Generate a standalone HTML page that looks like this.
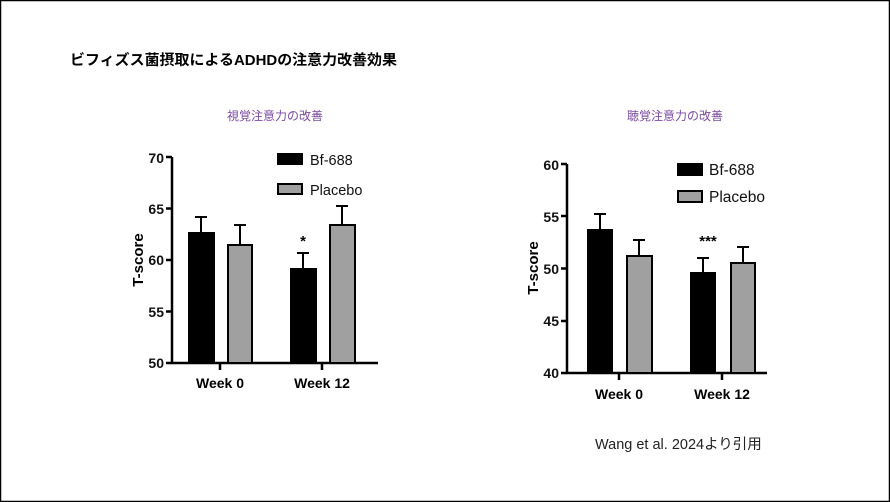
<!DOCTYPE html>
<html><head><meta charset="utf-8"><style>
html,body{margin:0;padding:0;background:#fff}
svg{display:block}
</style></head><body>
<svg width="890" height="502" xmlns="http://www.w3.org/2000/svg" font-family="Liberation Sans, Noto Sans CJK JP, sans-serif">
<rect x="0.5" y="0.5" width="889" height="501" fill="#fff" stroke="#000" stroke-width="1.5"/>
<text x="70" y="65" font-size="14.5" font-weight="bold" textLength="327" lengthAdjust="spacingAndGlyphs">ビフィズス菌摂取によるADHDの注意力改善効果</text>
<text x="275" y="120" font-size="12" fill="#7a4aa0" text-anchor="middle">視覚注意力の改善</text>
<text x="675" y="120" font-size="12" fill="#7a4aa0" text-anchor="middle">聴覚注意力の改善</text>
<text x="595" y="449" font-size="14.5" fill="#222">Wang et al. 2024より引用</text>

<!-- Left chart -->
<g stroke="#000" stroke-width="2.5" fill="none">
<path d="M172,157 V363 H378"/>
<path d="M166,157H172 M166,208.5H172 M166,260H172 M166,311.5H172 M166,363H172"/>
<path d="M220,363V370 M322,363V370"/>
</g>
<g font-size="14" font-weight="bold" text-anchor="end" fill="#111">
<text x="164" y="163">70</text><text x="164" y="214">65</text><text x="164" y="265">60</text><text x="164" y="317">55</text><text x="164" y="368">50</text>
</g>
<text transform="translate(143,260) rotate(-90)" font-size="15" font-weight="bold" text-anchor="middle">T-score</text>
<g font-size="14" font-weight="bold" text-anchor="middle">
<text x="220" y="388">Week 0</text><text x="322" y="388">Week 12</text>
</g>
<g stroke="#000" stroke-width="2">
<path d="M201,233V217M195,217H207 M240,245V225M234,225H246 M303,269V253M297,253H309 M342,225V206M336,206H348"/>
<rect x="189" y="233" width="25" height="130" fill="#000"/>
<rect x="228" y="245" width="24" height="118" fill="#a0a0a0"/>
<rect x="291" y="269" width="25" height="94" fill="#000"/>
<rect x="330" y="225" width="25" height="138" fill="#a0a0a0"/>
<rect x="278" y="154" width="24" height="10" fill="#000"/>
<rect x="278" y="184" width="24" height="10" fill="#a0a0a0"/>
</g>
<text x="303" y="246" font-size="15" font-weight="bold" text-anchor="middle">*</text>
<text x="310" y="165" font-size="14.5" fill="#111">Bf-688</text>
<text x="310" y="195" font-size="14.5" fill="#111">Placebo</text>

<!-- Right chart -->
<g stroke="#000" stroke-width="2.5" fill="none">
<path d="M567,164 V373 H767"/>
<path d="M561,164H567 M561,216H567 M561,268.5H567 M561,321H567 M561,373H567"/>
<path d="M619,373V380 M722,373V380"/>
</g>
<g font-size="14" font-weight="bold" text-anchor="end" fill="#111">
<text x="559" y="170">60</text><text x="559" y="222">55</text><text x="559" y="274">50</text><text x="559" y="326">45</text><text x="559" y="378">40</text>
</g>
<text transform="translate(538,268) rotate(-90)" font-size="15" font-weight="bold" text-anchor="middle">T-score</text>
<g font-size="14" font-weight="bold" text-anchor="middle">
<text x="619" y="399">Week 0</text><text x="722" y="399">Week 12</text>
</g>
<g stroke="#000" stroke-width="2">
<path d="M600,230V214M594,214H606 M639,256V240M633,240H645 M703,273V258M697,258H709 M743,263V247M737,247H749"/>
<rect x="588" y="230" width="24" height="143" fill="#000"/>
<rect x="627" y="256" width="25" height="117" fill="#a0a0a0"/>
<rect x="691" y="273" width="24" height="100" fill="#000"/>
<rect x="731" y="263" width="24" height="110" fill="#a0a0a0"/>
<rect x="678" y="164" width="24" height="11" fill="#000"/>
<rect x="678" y="191" width="24" height="11" fill="#a0a0a0"/>
</g>
<text x="708" y="246" font-size="15" font-weight="bold" text-anchor="middle">***</text>
<text x="709" y="175" font-size="15.5" fill="#111">Bf-688</text>
<text x="709" y="202" font-size="15.5" fill="#111">Placebo</text>
</svg>
</body></html>
